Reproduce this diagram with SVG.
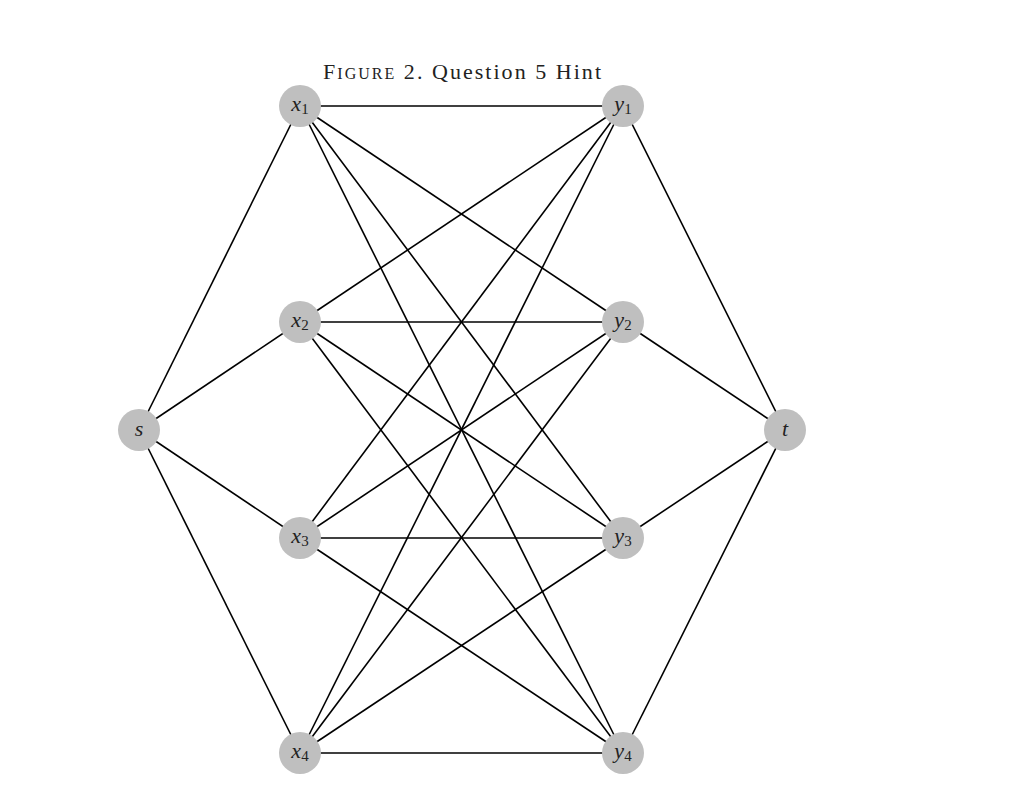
<svg xmlns="http://www.w3.org/2000/svg" width="1024" height="795" viewBox="0 0 1024 795">
<style>
.e{stroke:#000;stroke-width:1.6;fill:none}
.n{fill:#bfbfbf}
.l{font-family:"Liberation Serif",serif;font-size:22px;fill:#222;text-anchor:middle}
.v{font-style:italic}
.sub{font-size:15px}
.title{font-family:"Liberation Serif",serif;font-size:22px;fill:#222}
</style>
<rect width="1024" height="795" fill="#fff"/>
<text class="title" x="323" y="79" textLength="278" lengthAdjust="spacing">F<tspan font-size="16">IGURE</tspan> 2.  Question 5 Hint</text>
<g id="edges">
<line class="e" x1="139" y1="430" x2="300" y2="106"/>
<line class="e" x1="139" y1="430" x2="300" y2="322"/>
<line class="e" x1="139" y1="430" x2="300" y2="538"/>
<line class="e" x1="139" y1="430" x2="300" y2="753"/>
<line class="e" x1="785" y1="430" x2="623" y2="106"/>
<line class="e" x1="785" y1="430" x2="623" y2="322"/>
<line class="e" x1="785" y1="430" x2="623" y2="538"/>
<line class="e" x1="785" y1="430" x2="623" y2="753"/>
<line class="e" x1="300" y1="106" x2="623" y2="106"/>
<line class="e" x1="300" y1="106" x2="623" y2="322"/>
<line class="e" x1="300" y1="106" x2="623" y2="538"/>
<line class="e" x1="300" y1="106" x2="623" y2="753"/>
<line class="e" x1="300" y1="322" x2="623" y2="106"/>
<line class="e" x1="300" y1="322" x2="623" y2="322"/>
<line class="e" x1="300" y1="322" x2="623" y2="538"/>
<line class="e" x1="300" y1="322" x2="623" y2="753"/>
<line class="e" x1="300" y1="538" x2="623" y2="106"/>
<line class="e" x1="300" y1="538" x2="623" y2="322"/>
<line class="e" x1="300" y1="538" x2="623" y2="538"/>
<line class="e" x1="300" y1="538" x2="623" y2="753"/>
<line class="e" x1="300" y1="753" x2="623" y2="106"/>
<line class="e" x1="300" y1="753" x2="623" y2="322"/>
<line class="e" x1="300" y1="753" x2="623" y2="538"/>
<line class="e" x1="300" y1="753" x2="623" y2="753"/>
</g>
<g id="s"><circle class="n" cx="139" cy="430" r="21"/><text class="l v" x="139" y="436">s</text></g>
<g id="t"><circle class="n" cx="785" cy="430" r="21"/><text class="l v" x="785" y="436">t</text></g>
<g id="x1"><circle class="n" cx="300" cy="106" r="21"/><text class="l" x="300" y="111"><tspan class="v">x</tspan><tspan class="sub" dy="3">1</tspan></text></g>
<g id="x2"><circle class="n" cx="300" cy="322" r="21"/><text class="l" x="300" y="327"><tspan class="v">x</tspan><tspan class="sub" dy="3">2</tspan></text></g>
<g id="x3"><circle class="n" cx="300" cy="538" r="21"/><text class="l" x="300" y="543"><tspan class="v">x</tspan><tspan class="sub" dy="3">3</tspan></text></g>
<g id="x4"><circle class="n" cx="300" cy="753" r="21"/><text class="l" x="300" y="758"><tspan class="v">x</tspan><tspan class="sub" dy="3">4</tspan></text></g>
<g id="y1"><circle class="n" cx="623" cy="106" r="21"/><text class="l" x="623" y="111"><tspan class="v">y</tspan><tspan class="sub" dy="3">1</tspan></text></g>
<g id="y2"><circle class="n" cx="623" cy="322" r="21"/><text class="l" x="623" y="327"><tspan class="v">y</tspan><tspan class="sub" dy="3">2</tspan></text></g>
<g id="y3"><circle class="n" cx="623" cy="538" r="21"/><text class="l" x="623" y="543"><tspan class="v">y</tspan><tspan class="sub" dy="3">3</tspan></text></g>
<g id="y4"><circle class="n" cx="623" cy="753" r="21"/><text class="l" x="623" y="758"><tspan class="v">y</tspan><tspan class="sub" dy="3">4</tspan></text></g>
</svg>
